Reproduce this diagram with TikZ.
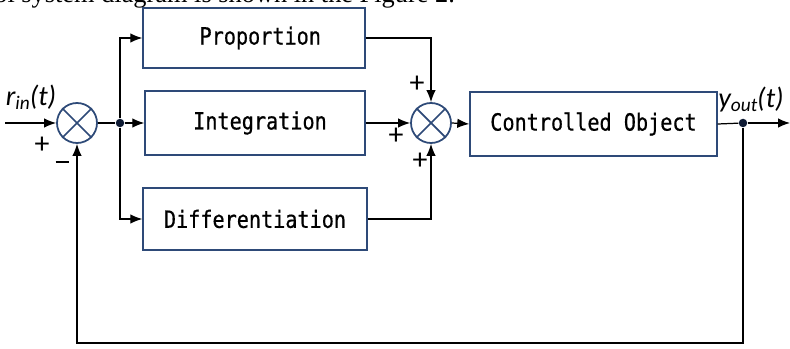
\documentclass[tikz,border=0pt]{standalone}
\usepackage{fontspec}
\setmainfont{Liberation Serif}
\newfontfamily\boxfont[FakeStretch=0.85,FakeBold=0.6]{DejaVu Sans Mono}
\newfontfamily\sigfont{Carlito}
\usetikzlibrary{arrows.meta}
\definecolor{boxblue}{HTML}{2E4A78}
\definecolor{dotnavy}{HTML}{0E1A33}

\begin{document}
\begin{tikzpicture}[
  block/.style={draw=boxblue, line width=0.8pt, inner sep=0pt,
    font=\boxfont\fontsize{13.5}{16}\selectfont},
  sumnode/.style={circle, draw=boxblue, line width=1pt, minimum size=0.8cm, inner sep=0pt},
  sig/.style={-{Latex[length=2.4mm,width=1.9mm]}, line width=0.7pt},
  wire/.style={line width=0.7pt},
  dotnode/.style={circle, fill=dotnavy, inner sep=0pt, minimum size=0.17cm},
  sign/.style={font=\sigfont\fontsize{17}{19}\selectfont},
  siglabel/.style={font=\sigfont\itshape\fontsize{16}{19}\selectfont}
]
\useasboundingbox (0,0) rectangle (15.8,6.96);
\clip (0,0) rectangle (15.8,6.96);

% running text cut off at the top
\node[anchor=base west, inner sep=0pt, font=\fontsize{15}{18}\selectfont] (caption) at (-0.12,6.9)
  {ol system diagram is shown in the Figure 2.};

% blocks
\node[block, minimum width=4.44cm, minimum height=1.2cm] (P) at (5.08,6.20) {\hspace{0.25cm}Proportion};
\node[block, minimum width=4.40cm, minimum height=1.28cm] (I) at (5.10,4.50) {\hspace{0.2cm}Integration};
\node[block, minimum width=4.48cm, minimum height=1.24cm] (D) at (5.10,2.58) {Differentiation};
\node[block, minimum width=4.94cm, minimum height=1.28cm] (C) at (11.87,4.48) {Controlled Object};

% summing junctions
\node[sumnode] (s1) at (1.54,4.50) {};
\node[sumnode] (s2) at (8.62,4.50) {};
\foreach \s in {s1,s2} {
  \draw[boxblue, line width=1pt] (\s.north west) -- (\s.south east);
  \draw[boxblue, line width=1pt] (\s.south west) -- (\s.north east);
}

% branch points and free ends
\node[dotnode] (sp) at (2.40,4.50) {};
\node[dotnode] (od) at (14.86,4.50) {};
\coordinate (in) at (0.10,4.50);
\coordinate (out) at (15.8,4.50);
\coordinate (fb) at (14.86,0.10);

% connectors
\draw[sig] (in) -- (s1.west);
\draw[wire] (s1.east) -- (sp);
\draw[sig] (sp) -- (I.west);
\draw[sig] (sp) |- (P.west);
\draw[sig] (sp) |- (D.west);
\draw[sig] (P.east) -| (s2.north);
\draw[sig] (I.east) -- (s2.west);
\draw[sig] (D.east) -| (s2.south);
\draw[sig] (s2.east) -- (C.west);
\draw[wire] (C.east) -- (od);
\draw[sig] (od) -- (out);
\draw[sig] (od) -- (fb) -| (s1.south);

% labels
\node[siglabel] (rin) at (0.62,5.02) {r\raisebox{-0.3ex}{\fontsize{11}{13}\selectfont in}(t)};
\node[siglabel] (yout) at (15.02,4.98) {y\raisebox{-0.3ex}{\fontsize{11}{13}\selectfont out}(t)};
\node[sign] (p1) at (0.84,4.06) {+};
\node[sign, inner sep=0pt] (m1) at (1.24,3.72) {\rule{0.26cm}{0.9pt}};
\node[sign] (p2) at (8.34,5.28) {+};
\node[sign] (p3) at (7.92,4.24) {+};
\node[sign] (p4) at (8.40,3.74) {+};
\end{tikzpicture}
\end{document}
